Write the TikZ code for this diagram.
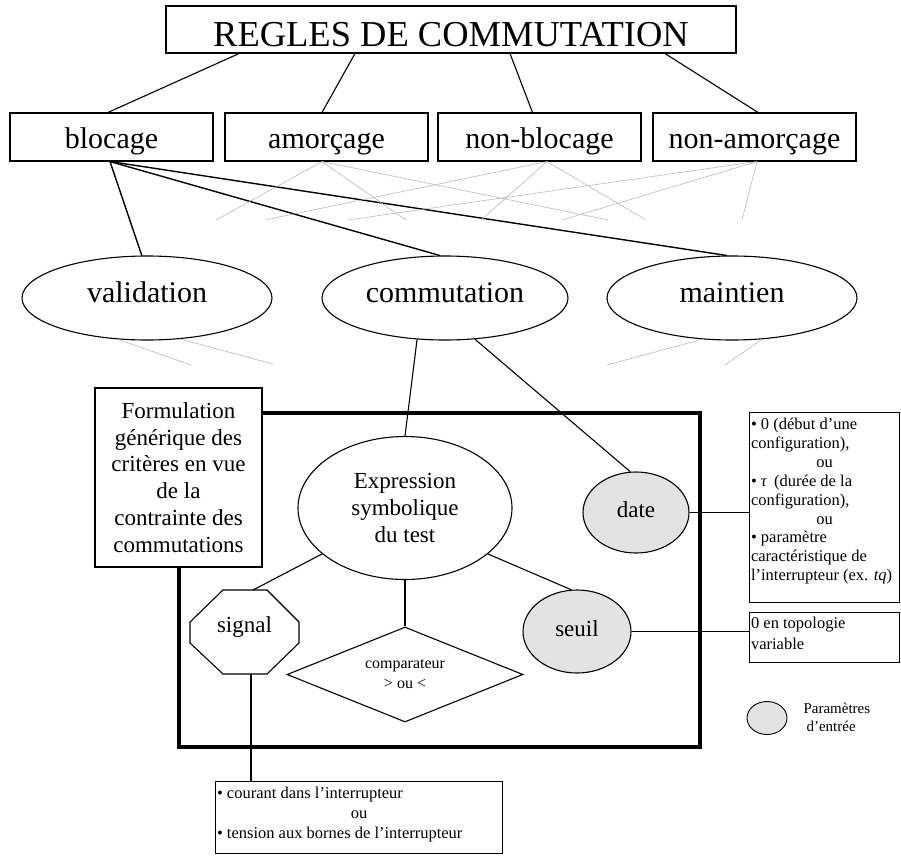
\documentclass[tikz,border=0pt]{standalone}
\usepackage{fontspec}
\setmainfont{Liberation Serif}
\usetikzlibrary{shapes.geometric}
\begin{document}
\begin{tikzpicture}[x=1pt,y=-1pt,
  line/.style={line width=1.1pt},
  faint/.style={line width=0.7pt, gray!60, dash pattern=on 1.6pt off 0.6pt},
  box/.style={draw, line width=1.1pt, inner sep=0pt},
  rowbox/.style={box, minimum width=203pt, text height=35pt, text depth=13pt,
    font=\fontsize{30}{32}\selectfont},
  oval/.style={draw, ellipse, line width=1.1pt, inner sep=0pt},
  bigoval/.style={oval, minimum height=84pt, text height=21pt, text depth=13pt,
    font=\fontsize{30}{32}\selectfont},
  input/.style={oval, fill=black!11},
  mid/.style={font=\fontsize{23}{26.8}\selectfont},
  note/.style={font=\fontsize{16.5}{18.9}\selectfont},
]
\useasboundingbox (0,0) rectangle (901,856);
\fill[white] (0,0) rectangle (901,856);

% rule families
\node[box, minimum width=570pt, text height=41pt, text depth=6pt,
  font=\fontsize{36.5}{38}\selectfont] (title) at (451,29.5) {REGLES DE COMMUTATION};
\node[rowbox] (blocage)  at (111.5,137) {blocage};
\node[rowbox] (amorcage) at (326.5,137) {amorçage};
\node[rowbox] (nonbloc)  at (539.5,137) {non-blocage};
\node[rowbox] (nonamorc) at (754.5,137) {non-amorçage};

\draw[line] ([xshift=-212pt]title.south) -- ([xshift=-3.5pt]blocage.north);
\draw[line] ([xshift=-96pt]title.south)  -- ([xshift=-4.5pt]amorcage.north);
\draw[line] ([xshift=59pt]title.south)   -- ([xshift=-7pt]nonbloc.north);
\draw[line] ([xshift=214pt]title.south)  -- ([xshift=3.5pt]nonamorc.north);

% criteria
\node[bigoval, minimum width=250pt] (validation) at (147,298) {validation};
\node[bigoval, minimum width=246pt] (commut)     at (445,298) {commutation};
\node[bigoval, minimum width=250pt] (maintien)   at (732,298) {maintien};

\draw[line width=1.4pt] ([xshift=-1.5pt]blocage.south) -- (validation.97);
\draw[line width=1.4pt] ([xshift=-1.5pt]blocage.south) -- (commut.97);
\draw[line width=1.4pt] ([xshift=-1.5pt]blocage.south) -- (maintien.97);

% the other families, only sketched
\coordinate (a1) at (216,220);
\coordinate (a2) at (406,220);
\coordinate (a3) at (608,220);
\coordinate (b1) at (265,220);
\coordinate (b2) at (481,220);
\coordinate (b3) at (646,220);
\coordinate (c1) at (348,220);
\coordinate (c2) at (562,220);
\coordinate (c3) at (742,220);
\foreach \e in {a1,a2,a3} \draw[faint] ([xshift=-4.5pt]amorcage.south) -- (\e);
\foreach \e in {b1,b2,b3} \draw[faint] ([xshift=7.5pt]nonbloc.south) -- (\e);
\foreach \e in {c1,c2,c3} \draw[faint] ([xshift=2.5pt]nonamorc.south) -- (\e);

\coordinate (v1) at (191,365);
\coordinate (v2) at (273,364);
\coordinate (m1) at (607,365);
\coordinate (m2) at (725,365);
\draw[faint] (validation.235) -- (v1);
\draw[faint] (validation.309) -- (v2);
\draw[faint] (maintien.234) -- (m1);
\draw[faint] (maintien.306) -- (m2);

% generic formulation frame
\draw[line width=4pt] (179,413) rectangle (700,747);
\node[box, fill=white, minimum width=167pt, minimum height=179pt, align=center, mid]
  (formul) at (178.5,477.5)
  {Formulation\\générique des\\critères en vue\\de la\\contrainte des\\commutations};

\node[oval, minimum width=214pt, minimum height=143pt, align=center, mid]
  (expr) at (405,508) {Expression\\symbolique\\du test};
\node[input, minimum width=106pt, minimum height=81pt, text height=16pt, text depth=7pt, mid]
  (date) at (636,512.5) {date};
\node[input, minimum width=108pt, minimum height=83pt, text height=16pt, text depth=7pt, mid]
  (seuil) at (577,631.5) {seuil};
\node[draw, diamond, aspect=2.5, line width=1.1pt, inner sep=0pt,
  minimum width=236pt, minimum height=95pt, align=center,
  font=\fontsize{16}{20}\selectfont] (comp) at (405,674.5) {comparateur\\> ou <};

% signal octagon
\draw[line] (223,590) -- (267,590) -- (299,622) -- (299,643) -- (267,674)
  -- (223,674) -- (190,643) -- (190,622) -- cycle;
\node[mid, anchor=base] (signal) at (244.5,632) {signal};
\coordinate (sigtop) at (253,590);
\coordinate (sigbot) at (251,674);

\draw[line] (commut.236) -- (expr.north);
\draw[line] (commut.306) -- (date.98);
\draw[line] (expr.209) -- (sigtop);
\draw[line] (expr.south) -- (comp.north);
\draw[line] (expr.331) -- (seuil.98);

% value boxes
\node[box, anchor=north west] (datebox) at (749,412)
  {\parbox[c][190pt][t]{150pt}{\fontsize{16.5}{18.9}\selectfont
    \rule{0pt}{17pt}\hspace*{1.5pt}• 0 (début d’une\par
    \hspace*{1.5pt}configuration),\par
    \makebox[\linewidth]{ou}\par
    \hspace*{1.5pt}• \textit{τ}\, (durée de la\par
    \hspace*{1.5pt}configuration),\par
    \makebox[\linewidth]{ou}\par
    \hspace*{1.5pt}• paramètre\par
    \hspace*{1.5pt}caractéristique de\par
    \hspace*{1.5pt}l’interrupteur (ex. \textit{tq})}};
\node[box, anchor=north west] (seuilbox) at (749,612)
  {\parbox[c][50pt][t]{150pt}{\fontsize{16.5}{21}\selectfont
    \rule{0pt}{16pt}\hspace*{1.5pt}0 en topologie\par
    \hspace*{1.5pt}variable}};
\node[box, anchor=north west] (bottombox) at (215,781)
  {\parbox[c][72pt][t]{287pt}{\fontsize{16.5}{19.8}\selectfont
    \rule{0pt}{17pt}\hspace*{1.5pt}• courant dans l’interrupteur\par
    \makebox[\linewidth]{ou}\par
    \hspace*{1.5pt}• tension aux bornes de l’interrupteur}};

\draw[line] (date.east) -- (date.east -| datebox.west);
\draw[line] (seuil.east) -- (seuil.east -| seuilbox.west);
\draw[line] (sigbot) -- (sigbot |- bottombox.north);

% legend
\node[input, line width=0.9pt, minimum width=40pt, minimum height=33pt] (legend) at (767,718) {};
\node[anchor=west, align=left, font=\fontsize{15}{18}\selectfont] (legendtxt) at (800,717)
  {Paramètres\\\hspace*{3pt}d’entrée};
\end{tikzpicture}
\end{document}
